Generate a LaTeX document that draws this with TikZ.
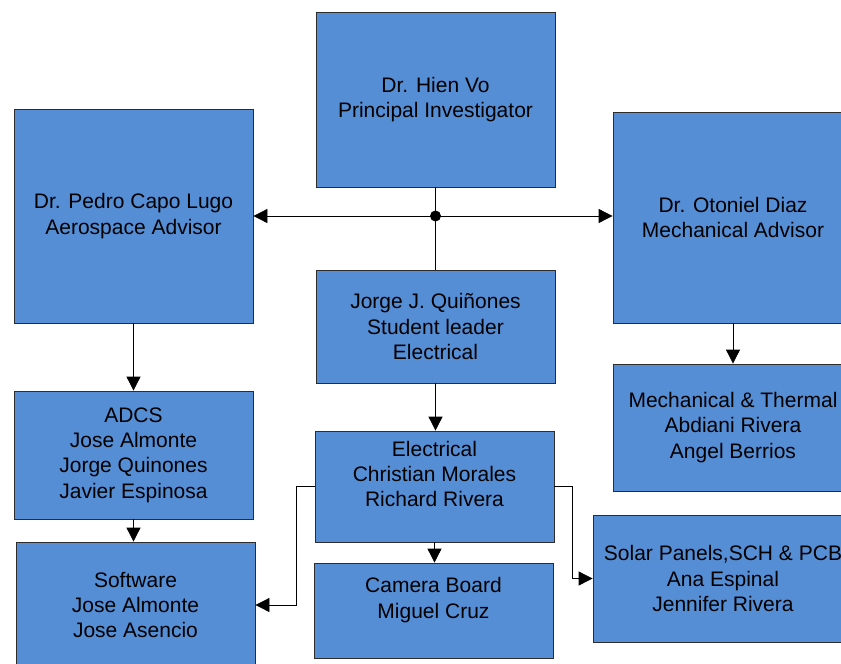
\documentclass[tikz,border=0pt]{standalone}
\usepackage{fontspec}
\setmainfont{Liberation Sans}
\usetikzlibrary{arrows.meta}
\definecolor{boxblue}{RGB}{85,142,213}
\definecolor{boxedge}{RGB}{45,45,45}

\begin{document}
\begin{tikzpicture}[x=1pt,y=-1pt,
  box/.style={draw=boxedge,fill=boxblue,line width=0.8pt,minimum width=239pt,
    inner sep=0pt,align=center,font=\fontsize{21}{25.3}\selectfont},
  link/.style={draw=black,line width=0.8pt,-{Triangle[length=14pt,width=14pt]}}]
  \useasboundingbox (0,0) rectangle (841,664);
  \node[box,minimum height=175pt] (pi) at (435.5,99.5) {Dr. Hien Vo\\Principal Investigator};
  \node[box,minimum height=214pt] (pedro) at (133.5,216) {Dr. Pedro Capo Lugo\\Aerospace Advisor};
  \node[box,minimum width=240pt,minimum height=211pt] (otoniel) at (733,217.5) {Dr. Otoniel Diaz\\Mechanical Advisor};
  \node[box,minimum height=113pt] (jorge) at (435.5,326.5) {Jorge J. Quiñones\\Student leader\\Electrical};
  \node[box,minimum height=128pt] (adcs) at (133.5,455) {ADCS\\Jose Almonte\\Jorge Quinones\\Javier Espinosa};
  \node[box,minimum height=126pt] (software) at (135.5,605) {Software\\Jose Almonte\\Jose Asencio};
  \node[box,minimum height=111pt] (elec) at (434.5,486.5) {Electrical\\Christian Morales\\Richard Rivera\\~};
  \node[box,minimum height=95pt] (camera) at (433.5,610.5) {Camera Board\\Miguel Cruz\\~};
  \node[box,minimum width=240pt,minimum height=127pt] (mech) at (733,427.5) {Mechanical \& Thermal\\Abdiani Rivera\\Angel Berrios};
  \node[box,minimum width=260pt,minimum height=127pt] (solar) at (723,578.5) {Solar Panels,SCH \& PCB\\Ana Espinal\\Jennifer Rivera};

  \coordinate (jn) at (435.5,216);
  \draw[line width=0.8pt] (pi) -- (jn) -- (jorge);
  \fill (jn) circle (5.5pt);
  \draw[link] (jn) -- (pedro);
  \draw[link] (jn) -- (otoniel.west |- jn);
  \draw[link] (pedro) -- (adcs);
  \draw[link] (adcs.south) -- (adcs.south |- software.north);
  \draw[link] (otoniel) -- (mech);
  \draw[link] (jorge.south) -- (jorge.south |- elec.north);
  \draw[link] (elec.south) -- (elec.south |- camera.north);
  \draw[link] (elec.west) -- ++(-18,0) |- (software.east);
  \draw[link] (elec.east) -- ++(18,0) |- (solar.west);
\end{tikzpicture}
\end{document}
